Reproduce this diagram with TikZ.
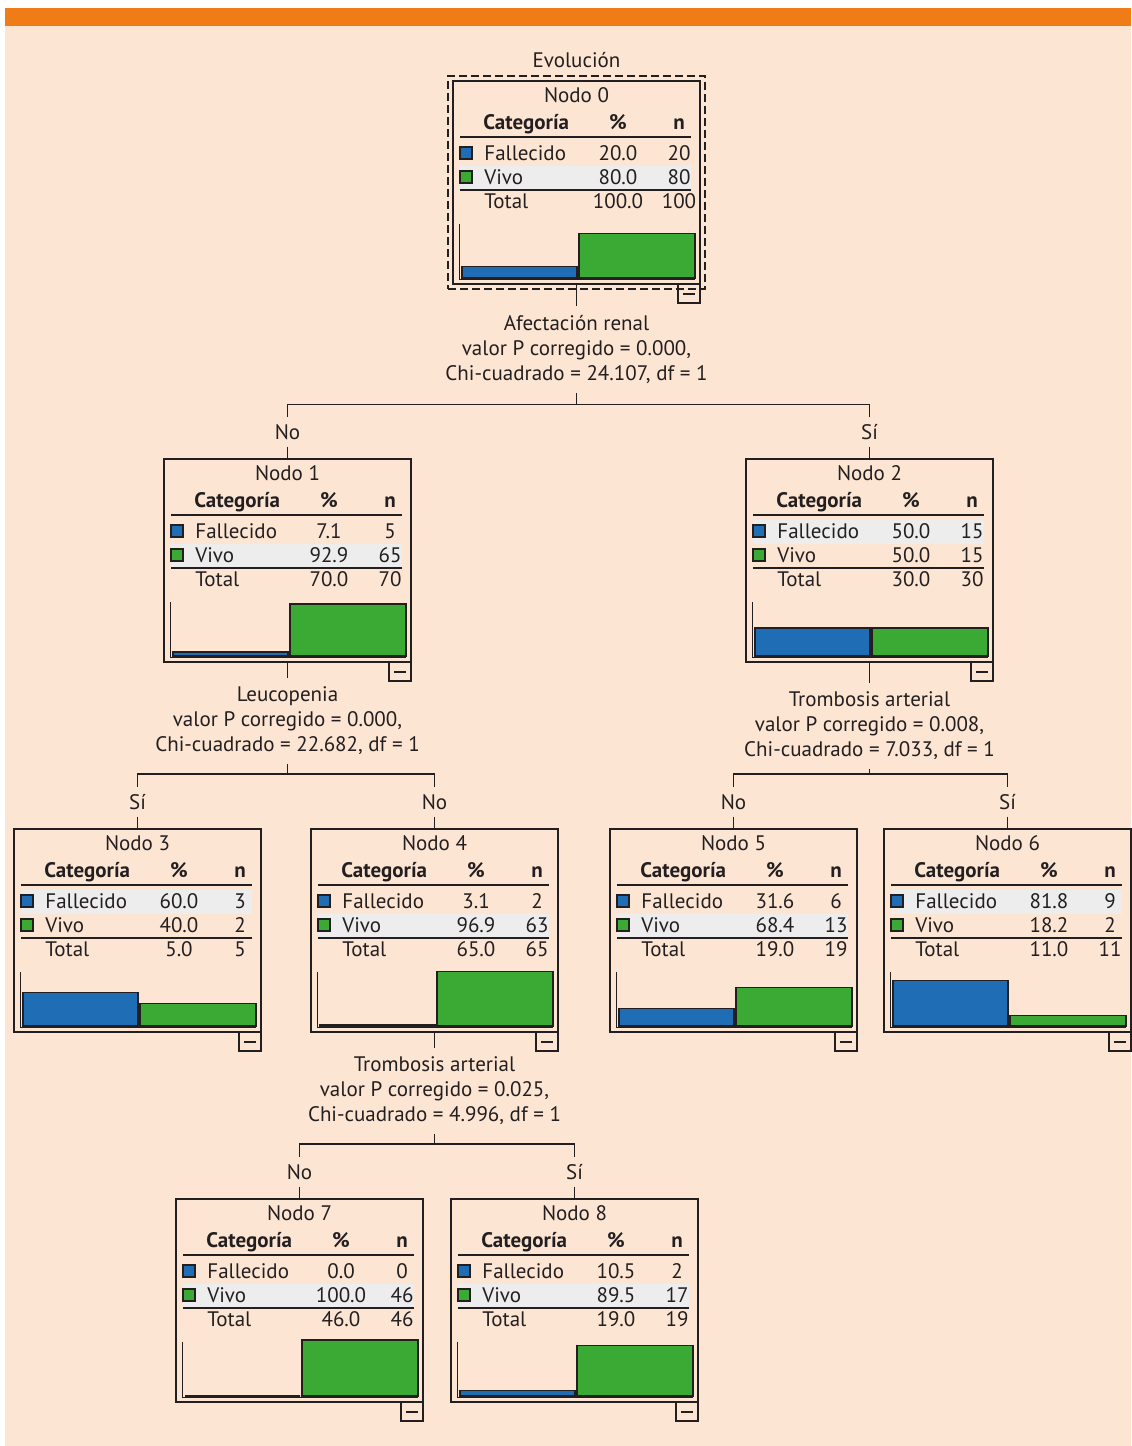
\documentclass[tikz,border=0pt]{standalone}
\usepackage{fontspec}
\setmainfont{PT Sans}
\usepackage{tikz}
\usetikzlibrary{positioning,calc,fit}
\usepackage{xcolor}

\definecolor{fondo}{HTML}{FDE5D3}
\definecolor{naranja}{HTML}{F07C18}
\definecolor{azul}{HTML}{1F6DB5}
\definecolor{verde}{HTML}{3AAA35}
\definecolor{resalte}{HTML}{EDEDED}
\definecolor{tinta}{HTML}{231F20}

\newcommand{\tabfont}{\fontsize{10.5}{12.5}\selectfont}

% #1 name, #2 top-left, #3 number, #4/#5 Fallecido, #6/#7 Vivo, #8/#9 Total
\newcommand{\nodo}[9]{%
    \node[block] (#1) at (#2) {};
    \ifdim #4pt<#6pt
        \fill[resalte] ($(#1.north west)+(7,85)$) rectangle ($(#1.north west)+(238,108)$);
    \else
        \fill[resalte] ($(#1.north west)+(7,61)$) rectangle ($(#1.north west)+(238,85)$);
    \fi
    \node[cell] at ($(#1.north west)+(123.5,14)$) {Nodo #3};
    \node[cell, anchor=west, font=\tabfont\bfseries] at ($(#1.north west)+(30,41)$) {Categoría};
    \node[cell, font=\tabfont\bfseries] at ($(#1.north west)+(165,41)$) {\%};
    \node[cell, font=\tabfont\bfseries] at ($(#1.north west)+(226,41)$) {n};
    \draw[line width=0.7pt] ($(#1.north west)+(7,56)$) -- ($(#1.north west)+(238,56)$);
    \draw[swatch, fill=azul] ($(#1.north west)+(7,66)$) rectangle ($(#1.north west)+(19,78)$);
    \node[cell, anchor=west] at ($(#1.north west)+(31,72)$) {Fallecido};
    \node[cell] at ($(#1.north west)+(165,72)$) {#4};
    \node[cell] at ($(#1.north west)+(226,72)$) {#5};
    \draw[swatch, fill=verde] ($(#1.north west)+(7,90)$) rectangle ($(#1.north west)+(19,102)$);
    \node[cell, anchor=west] at ($(#1.north west)+(31,96)$) {Vivo};
    \node[cell] at ($(#1.north west)+(165,96)$) {#6};
    \node[cell] at ($(#1.north west)+(226,96)$) {#7};
    \draw[line width=0.9pt] ($(#1.north west)+(7,109)$) -- ($(#1.north west)+(238,109)$);
    \node[cell, anchor=west] at ($(#1.north west)+(31,120)$) {Total};
    \node[cell] at ($(#1.north west)+(165,120)$) {#8};
    \node[cell] at ($(#1.north west)+(226,120)$) {#9};
    \draw[line width=0.5pt] ($(#1.north west)+(6,143)$) -- ($(#1.north west)+(6,198)$) -- ($(#1.north west)+(242,198)$);
    \draw[bar, fill=azul] ($(#1.north west)+(9,197)$) rectangle ($(#1.north west)+(124,197-0.56*#4)$);
    \draw[bar, fill=verde] ($(#1.north west)+(126,197)$) rectangle ($(#1.north west)+(242,197-0.56*#6)$);
    \draw[line width=0.6pt] ($(#1.north west)+(225,203)$) rectangle ($(#1.north west)+(247,222)$);
    \draw[line width=0.8pt] ($(#1.north west)+(230,213)$) -- ($(#1.north west)+(242,213)$);
}

\begin{document}
\begin{tikzpicture}[
    x=0.5pt, y=-0.5pt, color=tinta,
    block/.style={rectangle, draw, line width=1pt, minimum width=123.5pt, minimum height=101.5pt, inner sep=0pt, outer sep=0pt, anchor=north west},
    cell/.style={inner sep=0pt, text height=7.5pt, text depth=0pt, font=\tabfont},
    splittext/.style={align=center, inner xsep=0pt, inner ysep=4.5pt, font=\tabfont},
    branchlbl/.style={inner sep=0pt, minimum height=14.5pt, text height=7.5pt, text depth=0pt, font=\tabfont},
    swatch/.style={draw, line width=0.6pt},
    bar/.style={draw, line width=0.6pt},
    conn/.style={line width=0.8pt}
]
    \useasboundingbox (0,0) rectangle (1131,1446);
    \fill[white] (0,0) rectangle (1131,1446);
    \fill[fondo] (5,8) rectangle (1131,1446);
    \fill[naranja] (5,8) rectangle (1131,26);

    \nodo{n0}{453,81}{0}{20.0}{20}{80.0}{80}{100.0}{100}
    \node[fit=(n0), inner sep=2.5pt, draw, line width=0.9pt, dash pattern=on 4pt off 2pt] (f0) {};
    \node[cell, above=3.75pt of f0] (ev) {Evolución};

    \nodo{n1}{164,459}{1}{7.1}{5}{92.9}{65}{70.0}{70}
    \nodo{n2}{746,459}{2}{50.0}{15}{50.0}{15}{30.0}{30}
    \nodo{n3}{14,829}{3}{60.0}{3}{40.0}{2}{5.0}{5}
    \nodo{n4}{311,829}{4}{3.1}{2}{96.9}{63}{65.0}{65}
    \nodo{n5}{610,829}{5}{31.6}{6}{68.4}{13}{19.0}{19}
    \nodo{n6}{884,829}{6}{81.8}{9}{18.2}{2}{11.0}{11}
    \nodo{n7}{176,1199}{7}{0.0}{0}{100.0}{46}{46.0}{46}
    \nodo{n8}{451,1199}{8}{10.5}{2}{89.5}{17}{19.0}{19}

    \node[splittext, below=8pt of f0] (s0) {Afectación renal\\valor P corregido = 0.000,\\Chi-cuadrado = 24.107, df = 1};
    \node[splittext, below=7.75pt of n1] (s1) {Leucopenia\\valor P corregido = 0.000,\\Chi-cuadrado = 22.682, df = 1};
    \node[splittext, below=10.25pt of n2] (s2) {Trombosis arterial\\valor P corregido = 0.008,\\Chi-cuadrado = 7.033, df = 1};
    \node[splittext, below=7.75pt of n4] (s4) {Trombosis arterial\\valor P corregido = 0.025,\\Chi-cuadrado = 4.996, df = 1};

    \coordinate[below=5.75pt of s0] (j0);
    \coordinate[below=4.75pt of s1] (j1);
    \coordinate[below=2.25pt of s2] (j2);
    \coordinate[below=4.75pt of s4] (j4);

    \node[branchlbl, above=6.25pt of n1] (l1) {No};
    \node[branchlbl, above=6.25pt of n2] (l2) {Sí};
    \node[branchlbl, above=6.25pt of n3] (l3) {Sí};
    \node[branchlbl, above=6.25pt of n4] (l4) {No};
    \node[branchlbl, above=6.25pt of n5] (l5) {No};
    \node[branchlbl, above=6.25pt of n6] (l6) {Sí};
    \node[branchlbl, above=6.25pt of n7] (l7) {No};
    \node[branchlbl, above=6.25pt of n8] (l8) {Sí};

    \draw[conn] (n0.south) -- (s0.north);
    \draw[conn] (s0.south) -- (j0) -| (l1.north);
    \draw[conn] (j0) -| (l2.north);
    \draw[conn] (l1.south) -- (n1.north);
    \draw[conn] (l2.south) -- (n2.north);

    \draw[conn] (n1.south) -- (s1.north);
    \draw[conn] (s1.south) -- (j1) -| (l3.north);
    \draw[conn] (j1) -| (l4.north);
    \draw[conn] (l3.south) -- (n3.north);
    \draw[conn] (l4.south) -- (n4.north);

    \draw[conn] (n2.south) -- (s2.north);
    \draw[conn] (s2.south) -- (j2) -| (l5.north);
    \draw[conn] (j2) -| (l6.north);
    \draw[conn] (l5.south) -- (n5.north);
    \draw[conn] (l6.south) -- (n6.north);

    \draw[conn] (n4.south) -- (s4.north);
    \draw[conn] (s4.south) -- (j4) -| (l7.north);
    \draw[conn] (j4) -| (l8.north);
    \draw[conn] (l7.south) -- (n7.north);
    \draw[conn] (l8.south) -- (n8.north);
\end{tikzpicture}
\end{document}
